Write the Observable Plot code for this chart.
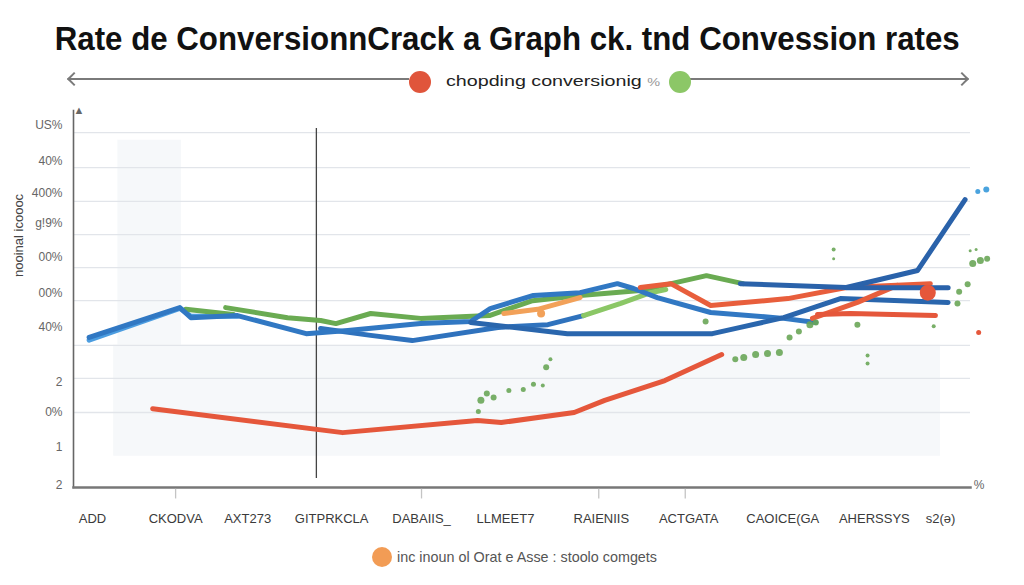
<!DOCTYPE html>
<html><head><meta charset="utf-8">
<script src="https://cdn.jsdelivr.net/npm/d3@7"></script>
<script src="https://cdn.jsdelivr.net/npm/@observablehq/plot@0.6"></script>
<style>
body{margin:0;background:#fff;font-family:"Liberation Sans",Arial,sans-serif;}
#wrap{position:relative;width:1024px;height:585px;overflow:hidden;background:#fff}
#title{position:absolute;top:18px;left:0;width:1015px;text-align:center;font-weight:bold;font-size:34px;line-height:40px;color:#111;white-space:nowrap}
#title span{display:inline-block;transform-origin:center}
.ln{position:absolute;height:2px;background:#7a7a7a}
.arr{position:absolute;width:8px;height:8px;border-left:2px solid #7a7a7a;border-bottom:2px solid #7a7a7a}
.dot{position:absolute;border-radius:50%}
.lt{position:absolute;white-space:nowrap;transform-origin:left center}
#chart{position:absolute;top:100px;left:0}
</style></head><body><div id="wrap">
<div id="title"><span id="tt">Rate de ConversionnCrack a Graph ck. tnd Convession rates</span></div>
<div class="ln" style="left:69px;top:78px;width:340px"></div>
<div class="arr" style="left:69px;top:74px;transform:rotate(45deg)"></div>
<div class="ln" style="left:690px;top:78px;width:277px"></div>
<div class="arr" style="left:957px;top:74px;transform:rotate(-135deg)"></div>
<div class="dot" style="left:409px;top:71px;width:22px;height:22px;background:#e0553b"></div>
<div class="lt" id="lg1" style="left:446px;top:72px;font-size:15px;line-height:18px;color:#222">chopding conversionig <span style="font-size:11px;color:#999">%</span></div>
<div class="dot" style="left:669px;top:71px;width:22px;height:22px;background:#8cc767"></div>
<div id="chart"></div>
<div class="dot" style="left:372px;top:547px;width:20px;height:20px;background:#f29c55"></div>
<div class="lt" id="lg2" style="left:397px;top:548px;font-size:15px;line-height:18px;color:#555">inc inoun ol Orat e Asse : stoolo comgets</div>
</div>
<script>
// ---- data ----
const xLabels = ["ADD","CKODVA","AXT273","GITPRKCLA","DABAIIS_","LLMEET7","RAIENIIS","ACTGATA","CAOICE(GA","AHERSSYS","s2(ə)"];
const xTickValues = [0, 0.98, 1.83, 2.82, 3.88, 4.87, 6.0, 7.03, 8.14, 9.22, 10.0];
const xTickMarks = [0.98, 3.88, 5.97, 6.99];
const yLabels = ["US%","40%","400%","g!9%","00%","00%","40%","2","0%","1","2"];
const yLabelValues = [104.2, 93.9, 84.7, 76.0, 66.2, 56.1, 46.1, 30.2, 21.6, 11.5, 0.8];
const gridValues = [102.2, 92.1, 82.4, 72.8, 63.3, 53.8, 40.9, 31.4, 21.6];
const yTitle = "nooinal icoooc";
const markerX = 2.64;

const blueMainX = [-0.04,1.03,1.16,1.71,2.52,3.01,3.87,4.46,4.69,5.20,5.75,6.19,6.38,6.66,7.29,8.15,8.53];
const blueMainY = [43.2,51.8,48.9,49.5,44.3,45.2,47.2,47.8,51.5,55.3,56.1,58.7,57.3,54.7,50.4,48.7,47.5];
const blueLightX = [-0.04,1.03,1.16,1.71];
const blueLightY = [42.4,51.6,49.3,49.3];
const blueFlatX = [4.46,5.60,7.31,7.64,8.15,8.82,10.09];
const blueFlatY = [47.5,44.3,44.3,46.1,48.9,54.4,53.3];
const blueLowX = [2.69,3.28,3.77,4.78,5.37,5.79];
const blueLowY = [45.8,43.8,42.3,46.1,46.9,49.5];
const greenLightX = [5.79,6.23,6.58,6.76];
const greenLightY = [49.5,53.0,56.1,57.0];
const blueSpikeX = [7.64,8.89,9.73,10.29];
const blueSpikeY = [58.7,57.6,62.5,82.9];
const blueTailX = [8.89,10.09];
const blueTailY = [57.5,57.5];
const greenShortX = [1.10,1.66];
const greenShortY = [51.3,49.8];
const greenX = [1.57,2.30,2.69,2.87,3.28,3.87,4.68,5.19,5.75,6.46,7.24,7.67];
const greenY = [51.8,48.9,48.1,47.2,50.1,48.7,49.5,53.8,55.3,56.7,61.0,58.7];
const redLowX = [0.71,2.95,4.54,4.82,5.68,6.04,6.75,7.42];
const redLowY = [22.7,15.8,19.3,18.7,21.6,25.1,30.8,38.3];
const redUpX = [6.46,6.82,7.29,8.20,8.89,9.88];
const redUpY = [57.6,58.7,52.4,54.4,57.6,58.7];
const redMidX = [8.49,9.02,9.49];
const redMidY = [48.7,53.3,58.2];
const redFlatX = [8.55,8.94,9.94];
const redFlatY = [49.8,50.1,49.5];
const orangeX = [4.85,5.25,5.75];
const orangeY = [50.1,51.3,54.7];

const greenDotX = [4.55,4.58,4.65,4.73,4.91,5.08,5.20,5.31,5.35,5.40,7.23,7.58,7.68,7.82,7.96,8.10,8.22,8.33,8.46,8.53,8.74,8.74,9.02,9.14,9.14,9.92,10.20,10.22,10.32,10.38,10.47,10.55,10.35,10.42];
const greenDotY = [21.9,25.1,27.1,25.9,27.9,28.2,29.7,29.4,34.6,36.9,47.8,36.9,37.4,38.3,38.6,38.9,43.2,44.9,46.9,47.5,68.5,65.9,46.9,38.0,35.7,46.4,53.0,56.4,58.5,64.5,65.4,65.9,68.2,68.5];
const greenDotR = [2.5,3.5,3,3,2.5,2.5,2.5,2,3,2,3,3,3.5,3.5,3.5,3.5,3,3,3.5,3,2,1.5,3,2,2,2,3,3,3,3.5,3.5,3,1.5,1.5];
const redDotX = [9.85, 10.45];
const redDotY = [56.1, 44.6];
const redDotR = [8, 2.5];
const blueDotX = [10.44, 10.54];
const blueDotY = [85.2, 85.8];
const orangeDotX = [5.29];
const orangeDotY = [50.1];

const shadeX1 = [0.25, 0.3];
const shadeX2 = [10.0, 1.05];
const shadeY1 = [9, 41];
const shadeY2 = [41, 100];

// ---- build ----
const zip = (xs, ys, rs) => xs.map((x, i) => ({x, y: ys[i], r: rs ? rs[i] : 3}));
const series = [
  [blueLightX, blueLightY, "#4c9de0"],
  [greenShortX, greenShortY, "#6aab52"],
  [greenX, greenY, "#6aab52"],
  [blueLowX, blueLowY, "#2f72bd"],
  [greenLightX, greenLightY, "#8bc766"],
  [blueMainX, blueMainY, "#3178c3"],
  [blueFlatX, blueFlatY, "#2a66ad"],
  [orangeX, orangeY, "#f2a159"],
  [redLowX, redLowY, "#e5573b"],
  [redUpX, redUpY, "#e85e3c"],
  [redMidX, redMidY, "#e85e3c"],
  [redFlatX, redFlatY, "#e5573b"],
  [blueTailX, blueTailY, "#2a62aa"],
  [blueSpikeX, blueSpikeY, "#2a62aa"]
];
const shades = shadeX1.map((x1, i) => ({x1, x2: shadeX2[i], y1: shadeY1[i], y2: shadeY2[i]}));

const marks = [
  Plot.rect(shades, {x1: "x1", x2: "x2", y1: "y1", y2: "y2", fill: "#eef2f6", fillOpacity: 0.5}),
  Plot.ruleY(gridValues, {stroke: "#e2e5ea", strokeWidth: 1.3}),
  Plot.ruleX([markerX], {y1: 2.6, y2: 103.4, stroke: "#444", strokeWidth: 1.3}),
  ...series.map(([xs, ys, c]) => Plot.line(zip(xs, ys), {x: "x", y: "y", stroke: c, strokeWidth: 5, strokeLinecap: "round", strokeLinejoin: "round"})),
  Plot.dot(zip(greenDotX, greenDotY, greenDotR), {x: "x", y: "y", r: "r", fill: "#6aa658", fillOpacity: 0.9}),
  Plot.dot(zip(redDotX, redDotY, redDotR), {x: "x", y: "y", r: "r", fill: "#e5573b"}),
  Plot.dot(zip(blueDotX, blueDotY, [2.5, 3]), {x: "x", y: "y", r: "r", fill: "#4aa3de"}),
  Plot.dot(zip(orangeDotX, orangeDotY, [4]), {x: "x", y: "y", r: "r", fill: "#f2a159"}),
  Plot.frame({anchor: "left", stroke: "#666", strokeWidth: 1.6}),
  Plot.frame({anchor: "bottom", stroke: "#777", strokeWidth: 2.5}),
  Plot.text(["▲"], {frameAnchor: "top-left", dy: -4, fontSize: 11, fill: "#666"}),
  Plot.text(["%"], {frameAnchor: "bottom-right", dx: 14, dy: 1, fontSize: 12, fill: "#666"}),
  Plot.ruleX(xTickMarks, {y1: -0.5, y2: -3.3, stroke: "#c4c4c4", strokeWidth: 1.3}),
  Plot.text(yLabels.map((t, i) => ({t, y: yLabelValues[i]})), {y: "y", text: "t", frameAnchor: "left", textAnchor: "end", dx: -11, fontSize: 12, fill: "#666"}),
  Plot.text(xLabels.map((t, i) => ({t, x: xTickValues[i]})), {x: "x", text: "t", frameAnchor: "bottom", dy: 35, fontSize: 13, fill: "#3a3a3a"}),
  Plot.text([yTitle], {frameAnchor: "left", dx: -55, dy: -22, rotate: -90, fontSize: 13, fill: "#444"})
];

const chart = Plot.plot({
  width: 1024,
  height: 440,
  marginLeft: 73,
  marginRight: 54,
  marginTop: 10,
  marginBottom: 53,
  style: {background: "transparent", fontFamily: "Liberation Sans, Arial, sans-serif"},
  x: {domain: [-0.5, 10.5], range: [49.6, 982.4], axis: null},
  y: {domain: [0, 110], range: [387, 5], axis: null},
  r: {type: "identity"},
  marks
});
document.getElementById("chart").appendChild(chart);

function fit(el, w, origin) {
  const r = el.getBoundingClientRect().width;
  el.style.transformOrigin = origin;
  el.style.transform = `scaleX(${w / r})`;
}
fit(document.getElementById("tt"), 905, "center");
fit(document.getElementById("lg1"), 214, "left center");
fit(document.getElementById("lg2"), 260, "left center");
</script>
</body></html>
